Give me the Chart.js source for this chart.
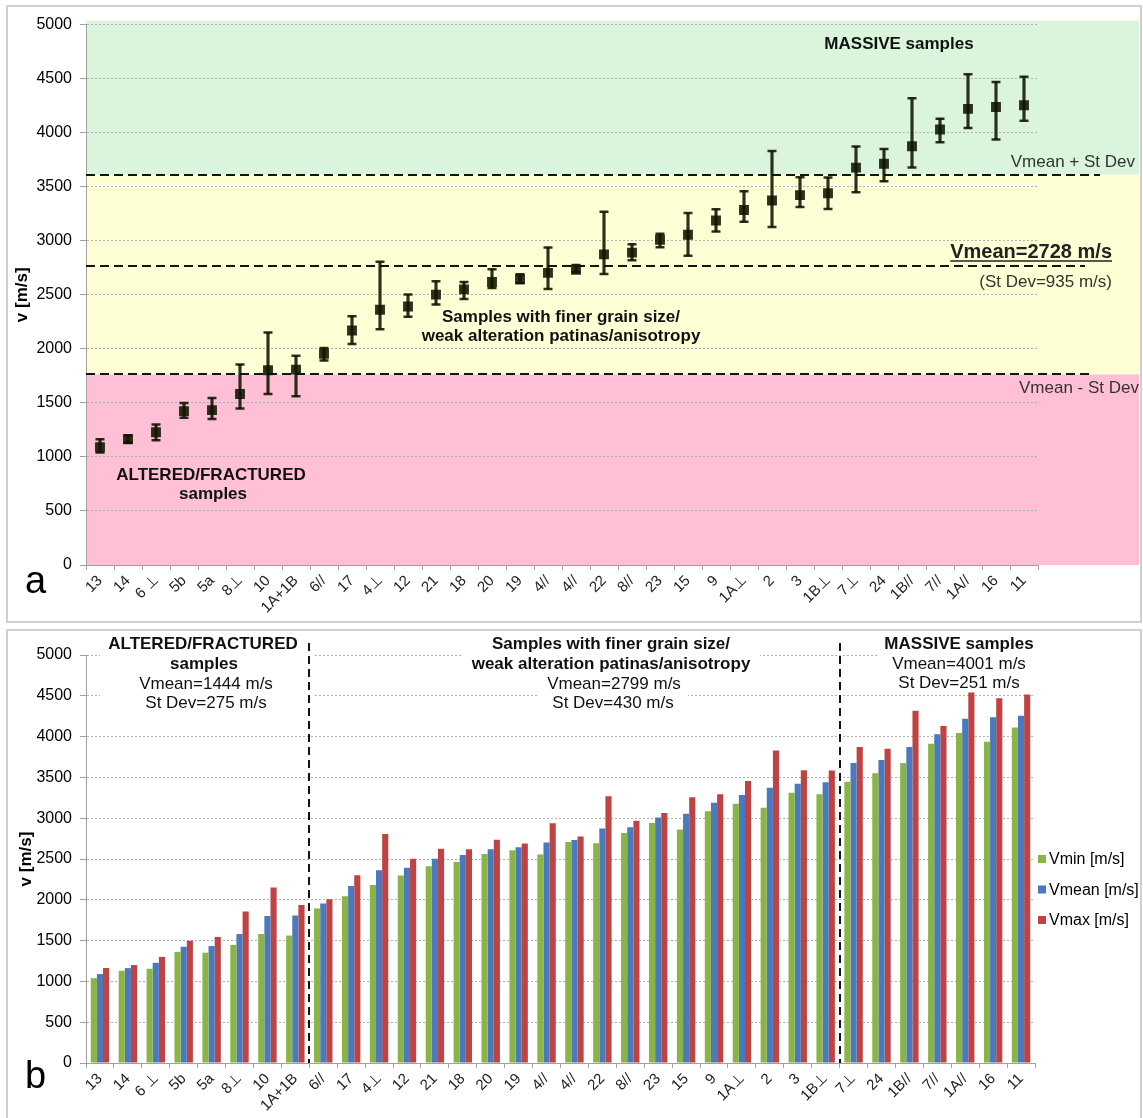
<!DOCTYPE html>
<html>
<head>
<meta charset="utf-8">
<title>P-wave velocity of samples</title>
<script src="https://cdn.jsdelivr.net/npm/chart.js@4.4.1/dist/chart.umd.min.js"></script>
<style>
  html, body { margin: 0; padding: 0; background: #fff; }
  body { width: 1143px; height: 1118px; position: relative; overflow: hidden; }
  .frame { position: absolute; border: 2px solid #d0d0d0; box-sizing: border-box; }
  #frameA { left: 6px; top: 5px; width: 1136px; height: 618px; }
  #frameB { left: 6px; top: 629px; width: 1136px; height: 495px; }
  canvas { position: absolute; }
  #chartA { left: 8px; top: 7px; }
  #chartB { left: 8px; top: 632px; }
</style>
</head>
<body>
<div class="frame" id="frameA"></div>
<div class="frame" id="frameB"></div>
<canvas id="chartA" width="1132" height="615"></canvas>
<canvas id="chartB" width="1132" height="486"></canvas>

<script>
// --- DATA ---
const labels = ['13', '14', '6 ⊥', '5b', '5a', '8⊥', '10', '1A+1B', '6//', '17', '4⊥', '12', '21', '18', '20', '19',
    '4//', '4//', '22', '8//', '23', '15', '9', '1A⊥', '2', '3', '1B⊥', '7⊥', '24', '1B//', '7//', '1A//', '16', '11'];

const vMin = [1040, 1130, 1155, 1362, 1352, 1448, 1582, 1562, 1892, 2045, 2182, 2298, 2410, 2462, 2562, 2606,
    2554, 2708, 2693, 2820, 2940, 2862, 3086, 3176, 3128, 3312, 3295, 3448, 3550, 3678, 3912, 4044, 3938, 4110];

const vMean = [1090, 1163, 1228, 1424, 1433, 1582, 1802, 1808, 1955, 2170, 2362, 2392, 2502, 2550, 2618, 2645,
    2703, 2732, 2874, 2890, 3010, 3055, 3188, 3285, 3372, 3422, 3440, 3677, 3713, 3874, 4030, 4220, 4238, 4254];

const vMax = [1164, 1200, 1300, 1498, 1545, 1856, 2152, 1935, 2008, 2302, 2805, 2502, 2626, 2618, 2736, 2690,
    2938, 2775, 3268, 2968, 3065, 3257, 3292, 3457, 3830, 3587, 3585, 3873, 3850, 4318, 4130, 4540, 4470, 4517];

const seriesNames = ['Vmin [m/s]', 'Vmean [m/s]', 'Vmax [m/s]'];
const seriesColors = ['#8ab446', '#4a79be', '#c04343'];

// reference lines of chart a (as drawn in the figure)
const lineUpper = 3612;  // Vmean + St Dev
const lineMean = 2766;   // Vmean
const lineLower = 1765;  // Vmean - St Dev

// chart b: first category of each new group
const groupStarts = [8, 27];

const Y_MIN = 0, Y_MAX = 5000, Y_STEP = 500;

const FONT = "'Liberation Sans', Arial, Helvetica, sans-serif";
Chart.defaults.font.family = FONT;
Chart.defaults.color = '#111';

const markColor = 'rgba(16,20,0,0.88)';

// text helper
function txt(ctx, s, x, y, font, align, color) {
    ctx.font = font;
    ctx.textAlign = align || 'center';
    ctx.textBaseline = 'alphabetic';
    ctx.fillStyle = color || '#111';
    ctx.fillText(s, x, y);
}

// plain numbers on the value axis (no thousands separator)
const plainTick = (v) => String(v);

// ---------- CHART A ----------
const bandsPlugin = {
    id: 'bands',
    beforeDraw(chart) {
        const { ctx, chartArea, scales: { y } } = chart;
        const left = chartArea.left;
        const right = chart.width - 1;
        ctx.save();
        const band = (yTop, yBottom, color) => {
            ctx.fillStyle = color;
            ctx.fillRect(left, yTop, right - left, yBottom - yTop);
        };
        band(y.getPixelForValue(lineLower), y.getPixelForValue(Y_MIN), '#ffbfd5');
        band(y.getPixelForValue(lineUpper), y.getPixelForValue(lineLower), '#ffffd6');
        band(chartArea.top - 4, y.getPixelForValue(lineUpper), '#daf5dc');
        ctx.restore();
    },
    beforeDatasetsDraw(chart) {
        const { ctx, chartArea, scales: { y } } = chart;
        ctx.save();
        ctx.strokeStyle = '#141414';
        ctx.lineWidth = 2.2;
        ctx.setLineDash([9, 5]);
        const dashed = (v, xEnd) => {
            const py = Math.round(y.getPixelForValue(v));
            ctx.beginPath();
            ctx.moveTo(chartArea.left, py);
            ctx.lineTo(xEnd, py);
            ctx.stroke();
        };
        dashed(lineUpper, 1092);
        dashed(lineMean, 1077);
        dashed(lineLower, 1082);
        ctx.restore();
    },
    afterDraw(chart) {
        const ctx = chart.ctx;
        ctx.save();
        txt(ctx, 'MASSIVE samples', 891, 42, 'bold 17px ' + FONT);
        txt(ctx, 'Vmean + St Dev', 1127, 160, '17px ' + FONT, 'right', '#333');

        ctx.font = 'bold 20px ' + FONT;
        const w = ctx.measureText('Vmean=2728 m/s').width;
        txt(ctx, 'Vmean=2728 m/s', 1104, 251, 'bold 20px ' + FONT, 'right', '#222');
        ctx.strokeStyle = '#222';
        ctx.lineWidth = 1.5;
        ctx.beginPath();
        ctx.moveTo(1104 - w, 254);
        ctx.lineTo(1104, 254);
        ctx.stroke();
        txt(ctx, '(St Dev=935 m/s)', 1104, 280, '17px ' + FONT, 'right', '#333');

        txt(ctx, 'Vmean - St Dev', 1131, 386, '17px ' + FONT, 'right', '#333');
        txt(ctx, 'Samples with finer grain size/', 553, 315, 'bold 17px ' + FONT);
        txt(ctx, 'weak alteration patinas/anisotropy', 553, 334, 'bold 17px ' + FONT);
        txt(ctx, 'ALTERED/FRACTURED', 203, 473, 'bold 17px ' + FONT);
        txt(ctx, 'samples', 205, 492, 'bold 17px ' + FONT);
        txt(ctx, 'a', 17, 586, '38px ' + FONT, 'left', '#000');
        ctx.restore();
    }
};

const errorRange = labels.map((l, i) => [vMin[i], vMax[i]]);

new Chart(document.getElementById('chartA'), {
    type: 'bar',
    data: {
        labels: labels,
        datasets: [
            {
                type: 'bar',
                data: errorRange,
                backgroundColor: markColor,
                barThickness: 2.5,
                order: 4
            },
            {
                type: 'line',
                data: vMax,
                showLine: false,
                pointStyle: 'line',
                pointRadius: 4.5,
                pointBorderWidth: 2.5,
                pointBorderColor: markColor,
                order: 3
            },
            {
                type: 'line',
                data: vMin,
                showLine: false,
                pointStyle: 'line',
                pointRadius: 4.5,
                pointBorderWidth: 2.5,
                pointBorderColor: markColor,
                order: 2
            },
            {
                type: 'line',
                data: vMean,
                showLine: false,
                pointStyle: 'rect',
                pointRadius: 7,
                pointBorderWidth: 0,
                pointBackgroundColor: markColor,
                order: 1
            }
        ]
    },
    options: {
        responsive: false,
        animation: false,
        layout: { padding: { left: 0, top: 14, right: 102, bottom: 0 } },
        plugins: { legend: { display: false }, tooltip: { enabled: false } },
        scales: {
            x: {
                offset: true,
                grid: { offset: true, drawOnChartArea: false, tickLength: 5, color: '#a0a0a0' },
                border: { color: '#a0a0a0', width: 1 },
                ticks: { autoSkip: false, maxRotation: 45, minRotation: 45, padding: 2, color: '#222', font: { size: 15 } },
                afterFit: (s) => { s.height = 57; }
            },
            y: {
                min: Y_MIN,
                max: Y_MAX,
                ticks: { stepSize: Y_STEP, padding: 8, color: '#000', font: { size: 16 }, callback: plainTick },
                grid: { color: '#b0b0b0', tickColor: '#a0a0a0', tickLength: 6 },
                border: { color: '#a0a0a0', dash: [2, 2] },
                title: { display: true, text: 'v [m/s]', color: '#000', font: { size: 17, weight: 'bold' }, padding: { top: 4, bottom: 0 } },
                afterFit: (s) => { s.width = 78; }
            }
        }
    },
    plugins: [bandsPlugin]
});

// ---------- CHART B ----------
const groupsPlugin = {
    id: 'groups',
    beforeDatasetsDraw(chart) {
        const { ctx, chartArea, scales: { x } } = chart;
        ctx.save();
        // white boxes behind the group captions
        ctx.fillStyle = '#fff';
        ctx.fillRect(chartArea.left + 14, 0, 215, 82);
        ctx.fillRect(454, 0, 298, 42);
        ctx.fillRect(530, 42, 150, 40);
        ctx.fillRect(870, 0, 162, 61);
        // dashed separators between groups
        ctx.strokeStyle = '#111';
        ctx.lineWidth = 2;
        ctx.setLineDash([8, 5]);
        groupStarts.forEach(i => {
            const px = Math.round((x.getPixelForValue(i - 1) + x.getPixelForValue(i)) / 2);
            ctx.beginPath();
            ctx.moveTo(px, 11);
            ctx.lineTo(px, chartArea.bottom);
            ctx.stroke();
        });
        ctx.restore();
    },
    afterDraw(chart) {
        const ctx = chart.ctx;
        ctx.save();
        txt(ctx, 'ALTERED/FRACTURED', 195, 17, 'bold 17px ' + FONT);
        txt(ctx, 'samples', 196, 37, 'bold 17px ' + FONT);
        txt(ctx, 'Vmean=1444 m/s', 198, 57, '17px ' + FONT);
        txt(ctx, 'St Dev=275 m/s', 198, 76, '17px ' + FONT);

        txt(ctx, 'Samples with finer grain size/', 603, 17, 'bold 17px ' + FONT);
        txt(ctx, 'weak alteration patinas/anisotropy', 603, 37, 'bold 17px ' + FONT);
        txt(ctx, 'Vmean=2799 m/s', 606, 57, '17px ' + FONT);
        txt(ctx, 'St Dev=430 m/s', 605, 76, '17px ' + FONT);

        txt(ctx, 'MASSIVE samples', 951, 17, 'bold 17px ' + FONT);
        txt(ctx, 'Vmean=4001 m/s', 951, 37, '17px ' + FONT);
        txt(ctx, 'St Dev=251 m/s', 951, 56, '17px ' + FONT);

        txt(ctx, 'b', 17, 456, '38px ' + FONT, 'left', '#000');

        // legend
        chart.data.datasets.forEach((ds, i) => {
            const cy = 227 + i * 30.5;
            ctx.fillStyle = ds.backgroundColor;
            ctx.fillRect(1030, cy - 4, 8, 8);
            ctx.font = '16px ' + FONT;
            ctx.textAlign = 'left';
            ctx.textBaseline = 'middle';
            ctx.fillStyle = '#000';
            ctx.fillText(ds.label, 1041, cy + 1);
        });
        ctx.restore();
    }
};

new Chart(document.getElementById('chartB'), {
    type: 'bar',
    data: {
        labels: labels,
        datasets: [
            { label: seriesNames[0], data: vMin, backgroundColor: seriesColors[0] },
            { label: seriesNames[1], data: vMean, backgroundColor: seriesColors[1] },
            { label: seriesNames[2], data: vMax, backgroundColor: seriesColors[2] }
        ]
    },
    options: {
        responsive: false,
        animation: false,
        categoryPercentage: 0.66,
        barPercentage: 1.0,
        layout: { padding: { left: 0, top: 23, right: 105, bottom: 0 } },
        plugins: { legend: { display: false }, tooltip: { enabled: false } },
        scales: {
            x: {
                offset: true,
                grid: { offset: true, drawOnChartArea: false, tickLength: 5, color: '#a0a0a0' },
                border: { color: '#a0a0a0', width: 1 },
                ticks: { autoSkip: false, maxRotation: 45, minRotation: 45, padding: 2, color: '#222', font: { size: 15 } },
                afterFit: (s) => { s.height = 55; }
            },
            y: {
                min: Y_MIN,
                max: Y_MAX,
                ticks: { stepSize: Y_STEP, padding: 8, color: '#000', font: { size: 16 }, callback: plainTick },
                grid: { color: '#b0b0b0', tickColor: '#a0a0a0', tickLength: 6 },
                border: { color: '#a0a0a0', dash: [2, 2] },
                title: { display: true, text: 'v [m/s]', color: '#000', font: { size: 17, weight: 'bold' }, padding: { top: 8, bottom: 0 } },
                afterFit: (s) => { s.width = 78; }
            }
        }
    },
    plugins: [groupsPlugin]
});
</script>
</body>
</html>
